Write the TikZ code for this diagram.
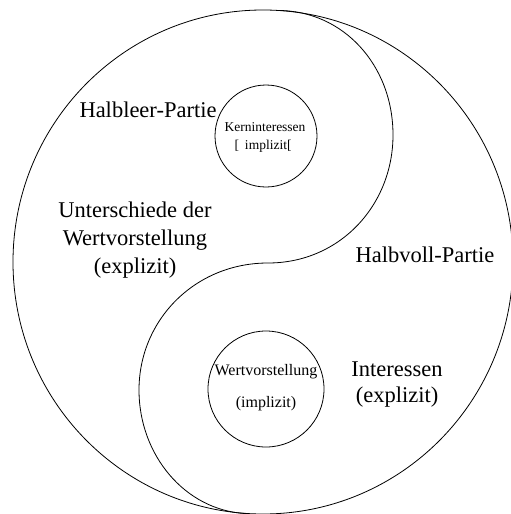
\documentclass[tikz,border=0pt]{standalone}
\usepackage{fontspec}
\setmainfont{Liberation Serif}
\tikzset{
  line/.style={draw=black, line width=0.8pt},
  bigtext/.style={inner sep=0pt, align=center, font=\fontsize{22.5}{28}\selectfont},
  smalltext/.style={inner sep=0pt, align=center, font=\fontsize{13.5}{19}\selectfont},
  midtext/.style={inner sep=0pt, align=center, font=\fontsize{16}{32}\selectfont},
  inner/.style={circle, draw=black, line width=0.8pt, inner sep=0pt}
}
\begin{document}
\begin{tikzpicture}[x=1pt, y=-1pt]
\useasboundingbox (0,0) rectangle (511,514);
% outer circle
\draw[line] (263,262) ellipse [x radius=250, y radius=252];
% S curve
\coordinate (T) at (278,10.5);
\coordinate (M) at (268,263);
\coordinate (B) at (245,513.5);
\draw[line] (T) .. controls (343,10.5) and (393,65) .. (393,135)
  .. controls (393,205) and (340,263) .. (M)
  .. controls (195,263) and (139,320) .. (139,390)
  .. controls (139,455) and (185,510) .. (B);
% inner circles
\node[inner, minimum size=102pt] (c1) at (266,136) {};
\node[inner, minimum size=116pt] (c2) at (266,389) {};
% texts
\node[smalltext] (k1) at (265,127) {Kerninteressen};
\node[smalltext] (k2) at (263,146) {[\hspace{6pt}implizit[};
\node[midtext] (w1) at (266,372) {Wertvorstellung};
\node[midtext] (w2) at (266,404) {(implizit)};
\node[bigtext] (hl) at (148,110) {Halbleer-Partie};
\node[bigtext] (hv) at (425,255) {Halbvoll-Partie};
\node[bigtext] (ud) at (135,240) {Unterschiede der\\Wertvorstellung\\(explizit)};
\node[bigtext, font=\fontsize{22.5}{26}\selectfont] (ie) at (397,385) {Interessen\\(explizit)};
\end{tikzpicture}
\end{document}
